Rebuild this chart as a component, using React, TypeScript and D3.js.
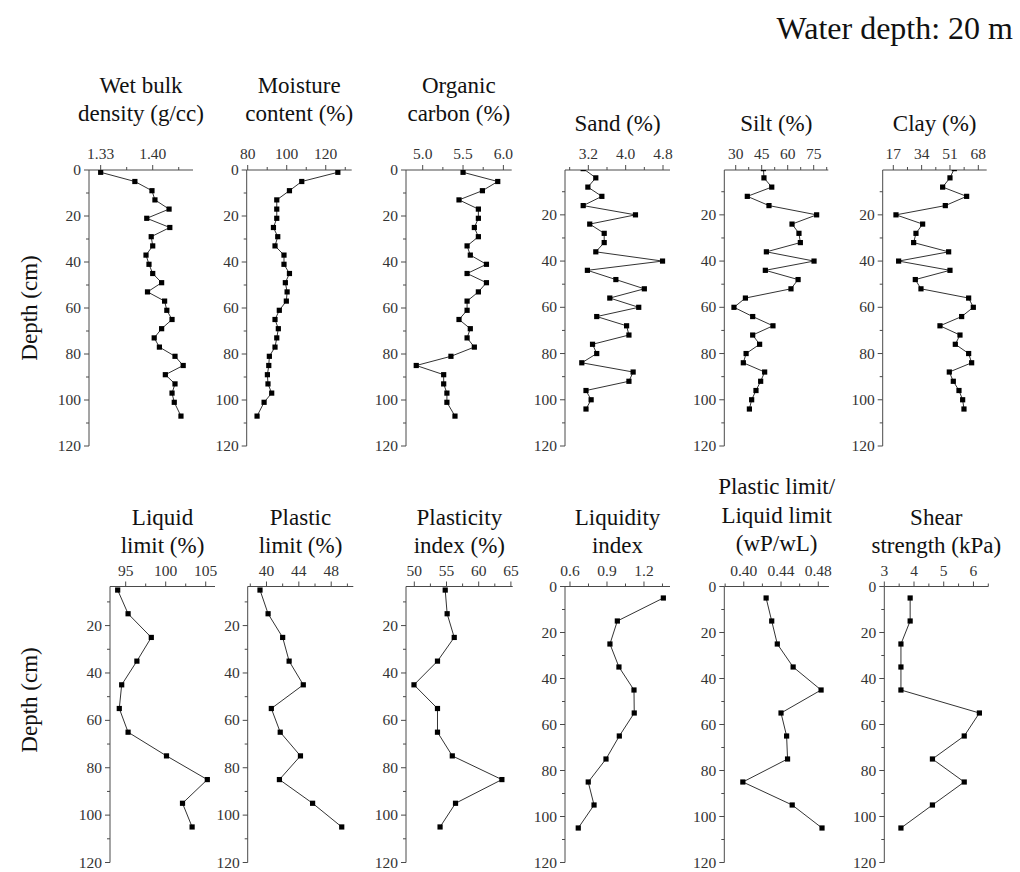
import React from "react";
import * as d3 from "d3";

// ---- Sample depths (cm) ----
const depthsCore = [1, 5, 9, 13, 17, 21, 25, 29, 33, 37, 41, 45, 49, 53, 57, 61, 65, 69, 73, 77, 81, 85, 89, 93, 97, 101, 107];
const depthsGrain = [0, 4, 8, 12, 16, 20, 24, 28, 32, 36, 40, 44, 48, 52, 56, 60, 64, 68, 72, 76, 80, 84, 88, 92, 96, 100, 104];
const depthsGeo = [5, 15, 25, 35, 45, 55, 65, 75, 85, 95, 105];

// ---- Physical properties ----
const wetBulkDensity = [1.33, 1.376, 1.399, 1.403, 1.422, 1.392, 1.423, 1.398, 1.4, 1.391, 1.395, 1.4, 1.412, 1.393, 1.416, 1.419, 1.426, 1.412, 1.402, 1.409, 1.43, 1.441, 1.417, 1.43, 1.426, 1.429, 1.438];
const moistureContent = [126.2, 107.7, 101.4, 94.9, 94.9, 94.9, 93.2, 95.4, 94.0, 98.6, 98.6, 101.4, 99.3, 100.2, 99.8, 96.2, 94.0, 95.7, 94.9, 94.0, 91.1, 90.8, 90.1, 90.4, 92.3, 88.4, 84.8];
const organicCarbon = [5.5, 5.93, 5.74, 5.45, 5.69, 5.69, 5.64, 5.69, 5.55, 5.59, 5.79, 5.55, 5.79, 5.69, 5.55, 5.55, 5.45, 5.59, 5.55, 5.64, 5.35, 4.92, 5.26, 5.26, 5.3, 5.3, 5.4];

// ---- Grain size ----
const sand = [3.09, 3.36, 3.19, 3.49, 3.09, 4.21, 3.23, 3.54, 3.54, 3.36, 4.79, 3.18, 3.79, 4.4, 3.66, 4.28, 3.38, 4.02, 4.07, 3.29, 3.38, 3.06, 4.16, 4.07, 3.15, 3.26, 3.15];
const silt = [46.0, 46.3, 50.8, 36.7, 49.2, 76.7, 62.5, 66.5, 67.3, 47.7, 75.2, 47.1, 66.0, 61.9, 35.6, 29.0, 39.8, 51.5, 39.8, 43.8, 36.0, 34.4, 46.7, 44.4, 41.7, 39.2, 37.9];
const clay = [53.6, 51.0, 46.6, 61.0, 48.2, 18.6, 34.6, 30.6, 29.2, 50.2, 20.2, 51.0, 30.2, 33.6, 62.2, 65.0, 58.0, 45.0, 57.0, 54.2, 62.2, 64.0, 50.6, 53.0, 56.4, 58.6, 59.4];

// ---- Geotechnical properties ----
const liquidLimit = [94.0, 95.3, 98.2, 96.4, 94.5, 94.2, 95.3, 100.1, 105.2, 102.1, 103.3];
const plasticLimit = [39.2, 40.2, 42.0, 42.8, 44.55, 40.6, 41.7, 44.2, 41.6, 45.7, 49.3];
const plasticityIndex = [54.8, 55.1, 56.2, 53.6, 49.95, 53.6, 53.6, 55.9, 63.6, 56.4, 54.0];
const liquidityIndex = [1.357, 0.984, 0.924, 0.997, 1.119, 1.121, 1.0, 0.892, 0.748, 0.795, 0.667];
const limitRatio = [0.424, 0.43, 0.436, 0.453, 0.483, 0.44, 0.446, 0.447, 0.399, 0.452, 0.484];
const shearStrength = [3.87, 3.87, 3.56, 3.56, 3.56, 6.2, 5.69, 4.62, 5.69, 4.62, 3.56];

// ---- Axis tick values ----
const depthMajor = [0, 20, 40, 60, 80, 100, 120];
const depthMinor = [10, 30, 50, 70, 90, 110];

const FONT = '"Liberation Serif", "Times New Roman", "DejaVu Serif", serif';
const TOP_Y0 = 170;
const TOP_Y1 = 446;
const BOT_Y0 = 586.5;
const BOT_Y1 = 862.5;

type Panel = {
  key: string;
  title: string[];
  titleBase: number; // baseline of the last title line
  x0: number;
  x1: number;
  y0: number;
  y1: number;
  xDomain: [number, number];
  yDomain: [number, number];
  major: number[];
  minor: number[];
  fmt: (v: number) => string;
  depths: number[];
  values: number[];
};

const f0 = d3.format("d");
const f1 = d3.format(".1f");
const f2 = d3.format(".2f");

const panels: Panel[] = [
  { key: "wbd", title: ["Wet bulk", "density (g/cc)"], titleBase: 121, x0: 89, x1: 193, y0: TOP_Y0, y1: TOP_Y1, xDomain: [1.3143, 1.4542], yDomain: [0, 120], major: [1.33, 1.4], minor: [1.365, 1.435], fmt: f2, depths: depthsCore, values: wetBulkDensity },
  { key: "mc", title: ["Moisture", "content (%)"], titleBase: 121, x0: 246.7, x1: 351.7, xDomain: [79.49, 133.3], y0: TOP_Y0, y1: TOP_Y1, yDomain: [0, 120], major: [80, 100, 120], minor: [90, 110, 130], fmt: f0, depths: depthsCore, values: moistureContent },
  { key: "oc", title: ["Organic", "carbon (%)"], titleBase: 121, x0: 406, x1: 511.7, xDomain: [4.793, 6.103], y0: TOP_Y0, y1: TOP_Y1, yDomain: [0, 120], major: [5.0, 5.5, 6.0], minor: [5.25, 5.75], fmt: f1, depths: depthsCore, values: organicCarbon },
  { key: "sand", title: ["Sand (%)"], titleBase: 131, x0: 565, x1: 670, xDomain: [2.7, 4.95], y0: TOP_Y0, y1: TOP_Y1, yDomain: [0.6, 120], major: [3.2, 4.0, 4.8], minor: [2.8, 3.6, 4.4], fmt: f1, depths: depthsGrain, values: sand },
  { key: "silt", title: ["Silt (%)"], titleBase: 131, x0: 724.3, x1: 828.3, xDomain: [23.42, 83.43], y0: TOP_Y0, y1: TOP_Y1, yDomain: [0.6, 120], major: [30, 45, 60, 75], minor: [37.5, 52.5, 67.5, 82.5], fmt: f0, depths: depthsGrain, values: silt },
  { key: "clay", title: ["Clay (%)"], titleBase: 131, x0: 882.7, x1: 986.7, xDomain: [10.64, 73.03], y0: TOP_Y0, y1: TOP_Y1, yDomain: [0.6, 120], major: [17, 34, 51, 68], minor: [25.5, 42.5, 59.5], fmt: f0, depths: depthsGrain, values: clay },
  { key: "ll", title: ["Liquid", "limit (%)"], titleBase: 553, x0: 110, x1: 215, xDomain: [93.04, 106.16], y0: BOT_Y0, y1: BOT_Y1, yDomain: [3.5, 120], major: [95, 100, 105], minor: [97.5, 102.5], fmt: f0, depths: depthsGeo, values: liquidLimit },
  { key: "pl", title: ["Plastic", "limit (%)"], titleBase: 553, x0: 247.7, x1: 353.3, xDomain: [37.68, 50.73], y0: BOT_Y0, y1: BOT_Y1, yDomain: [3.5, 120], major: [40, 44, 48], minor: [38, 42, 46, 50], fmt: f0, depths: depthsGeo, values: plasticLimit },
  { key: "pi", title: ["Plasticity", "index (%)"], titleBase: 553, x0: 406, x1: 512.7, xDomain: [48.71, 65.28], y0: BOT_Y0, y1: BOT_Y1, yDomain: [3.5, 120], major: [50, 55, 60, 65], minor: [52.5, 57.5, 62.5], fmt: f0, depths: depthsGeo, values: plasticityIndex },
  { key: "li", title: ["Liquidity", "index"], titleBase: 553, x0: 565, x1: 670, xDomain: [0.5595, 1.411], y0: BOT_Y0, y1: BOT_Y1, yDomain: [0, 120], major: [0.6, 0.9, 1.2], minor: [0.75, 1.05, 1.35], fmt: f1, depths: depthsGeo, values: liquidityIndex },
  { key: "ratio", title: ["Plastic limit/", "Liquid limit", "(wP/wL)"], titleBase: 551, x0: 724.3, x1: 829, xDomain: [0.3791, 0.4915], y0: BOT_Y0, y1: BOT_Y1, yDomain: [0, 120], major: [0.4, 0.44, 0.48], minor: [0.38, 0.42, 0.46], fmt: f2, depths: depthsGeo, values: limitRatio },
  { key: "su", title: ["Shear", "strength (kPa)"], titleBase: 553, x0: 884.3, x1: 988.3, xDomain: [3, 6.5], y0: BOT_Y0, y1: BOT_Y1, yDomain: [0, 120], major: [3, 4, 5, 6], minor: [3.5, 4.5, 5.5, 6.5], fmt: f0, depths: depthsGeo, values: shearStrength },
];

const AXIS = "#4a4a4a";
const LABEL = "#333";
const LINE_H = 28.5;

function ProfilePanel({ p }: { p: Panel }) {
  const x = d3.scaleLinear().domain(p.xDomain).range([p.x0, p.x1]);
  const y = d3.scaleLinear().domain(p.yDomain).range([p.y0, p.y1]);
  const pts = p.depths.map((d, i) => [p.values[i], d] as [number, number]);
  const line = d3
    .line<[number, number]>()
    .x((d) => x(d[0]))
    .y((d) => y(d[1]));
  const inX = (v: number) => v >= p.xDomain[0] - 1e-9 && v <= p.xDomain[1] + 1e-9;
  const inY = (v: number) => v >= p.yDomain[0] - 1e-9 && v <= p.yDomain[1] + 1e-9;
  const cx = (p.x0 + p.x1) / 2;
  const clipId = `clip-${p.key}`;
  const n = p.title.length;
  return (
    <g>
      <defs>
        <clipPath id={clipId}>
          <rect x={p.x0 - 10} y={p.y0} width={p.x1 - p.x0 + 20} height={p.y1 - p.y0 + 10} />
        </clipPath>
      </defs>
      {p.title.map((t, i) => (
        <text
          key={i}
          x={cx}
          y={p.titleBase - (n - 1 - i) * LINE_H}
          textAnchor="middle"
          style={{ fontFamily: FONT, fontSize: 23 }}
          fill="#111"
        >
          {t}
        </text>
      ))}
      {/* axes */}
      <line x1={p.x0} x2={p.x1} y1={p.y0} y2={p.y0} stroke={AXIS} strokeWidth={1} />
      <line x1={p.x0} x2={p.x0} y1={p.y0} y2={p.y1} stroke={AXIS} strokeWidth={1} />
      {p.major.filter(inX).map((v) => (
        <g key={`mx${v}`}>
          <line x1={x(v)} x2={x(v)} y1={p.y0} y2={p.y0 - 5} stroke={AXIS} strokeWidth={1} />
          <text x={x(v)} y={p.y0 - 11} textAnchor="middle" style={{ fontFamily: FONT, fontSize: 15.5 }} fill={LABEL}>
            {p.fmt(v)}
          </text>
        </g>
      ))}
      {p.minor.filter(inX).map((v) => (
        <line key={`nx${v}`} x1={x(v)} x2={x(v)} y1={p.y0} y2={p.y0 - 3} stroke={AXIS} strokeWidth={1} />
      ))}
      {depthMajor.filter(inY).map((v) => (
        <g key={`my${v}`}>
          <line x1={p.x0} x2={p.x0 - 5} y1={y(v)} y2={y(v)} stroke={AXIS} strokeWidth={1} />
          <text x={p.x0 - 8} y={y(v) + 5} textAnchor="end" style={{ fontFamily: FONT, fontSize: 15.5 }} fill={LABEL}>
            {f0(v)}
          </text>
        </g>
      ))}
      {depthMinor.filter(inY).map((v) => (
        <line key={`ny${v}`} x1={p.x0} x2={p.x0 - 3} y1={y(v)} y2={y(v)} stroke={AXIS} strokeWidth={1} />
      ))}
      {/* profile */}
      <g clipPath={`url(#${clipId})`}>
        <path d={line(pts) || ""} fill="none" stroke="#333" strokeWidth={1} />
        {pts.map((d, i) => (
          <rect key={i} x={x(d[0]) - 2.6} y={y(d[1]) - 2.6} width={5.2} height={5.2} fill="#000" />
        ))}
      </g>
    </g>
  );
}

export default function App() {
  return (
    <svg
      width={1020}
      height={872}
      viewBox="0 0 1020 872"
      style={{ position: "absolute", left: 0, top: 0, background: "#fff", display: "block" }}
    >
      <rect x={0} y={0} width={1020} height={872} fill="#fff" />
      <text x={1013} y={39} textAnchor="end" style={{ fontFamily: FONT, fontSize: 32 }} fill="#111">
        Water depth: 20 m
      </text>
      {[308, 700].map((cy) => (
        <text
          key={cy}
          transform={`translate(37,${cy}) rotate(-90)`}
          textAnchor="middle"
          style={{ fontFamily: FONT, fontSize: 23 }}
          fill="#111"
        >
          Depth (cm)
        </text>
      ))}
      {panels.map((p) => (
        <ProfilePanel key={p.key} p={p} />
      ))}
    </svg>
  );
}
